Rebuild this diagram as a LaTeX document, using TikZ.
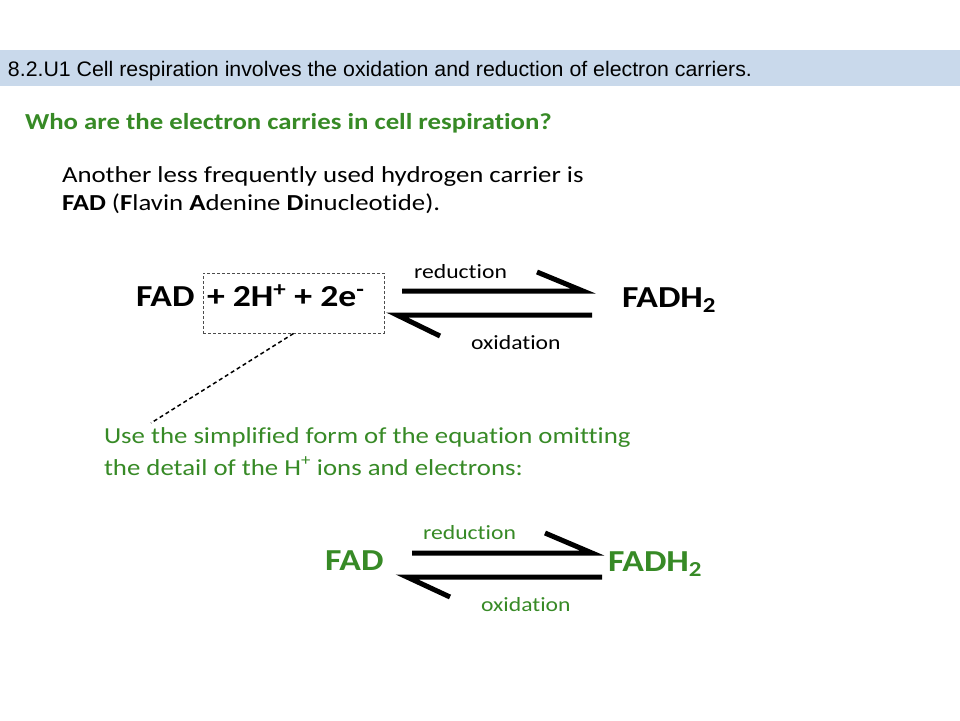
\documentclass[tikz,border=0pt]{standalone}
\usepackage{fontspec}
\setmainfont{Carlito}[FakeStretch=1.17,Ligatures=NoCommon]
\newfontfamily\arialfont{Liberation Sans}[FakeStretch=1.015]
\definecolor{bannerblue}{RGB}{201,217,235}
\definecolor{leafgreen}{RGB}{55,138,38}
\begin{document}
\begin{tikzpicture}[x=1pt,y=-1pt,
  txt/.style={anchor=base west,inner sep=0pt,outer sep=0pt},
  harpoon/.style={line width=5pt,line cap=butt,black},
  lbl/.style={anchor=base west,inner sep=0pt,font=\fontsize{20.2}{24}\selectfont}]
\useasboundingbox (0,0) rectangle (960,720);
\fill[white] (0,0) rectangle (960,720);
% banner
\fill[bannerblue] (0,50) rectangle (960,86);
\node[txt,font=\arialfont\fontsize{21}{24}\selectfont] (banner) at (8,76)
  {8.2.U1 Cell respiration involves the oxidation and reduction of electron carriers.};
% title
\node[txt,text=leafgreen,font=\bfseries\fontsize{22.9}{26}\selectfont] (title) at (25,129)
  {Who are the electron carries in cell respiration?};
% paragraph
\node[txt,font=\fontsize{22.9}{28}\selectfont] (para1) at (62,182)
  {Another less frequently used hydrogen carrier is};
\node[txt,font=\fontsize{22.9}{28}\selectfont] (para2) at (62,210)
  {\textbf{FAD} (\textbf{F}lavin \textbf{A}denine \textbf{D}inucleotide).};
% equation 1
\node[txt,font=\bfseries\fontsize{30.5}{36}\selectfont] (fad1) at (136,306) {FAD};
\node[txt,font=\bfseries\fontsize{30.5}{36}\selectfont] (ions) at (207,306)
  {+ 2H\textsuperscript{+} + 2e\textsuperscript{-}};
\node[draw=black!70,dashed,dash pattern=on 3pt off 2pt,line width=1pt,
  minimum width=181pt,minimum height=60pt,inner sep=0pt] (box) at (293.5,303) {};
\node[txt,font=\bfseries\fontsize{30.5}{36}\selectfont] (fadh1) at (622,307)
  {FADH\textsubscript{2}};
\coordinate (a1s) at (402,291); \coordinate (a1e) at (583,291); \coordinate (a1b) at (537,272);
\coordinate (b1s) at (592,315); \coordinate (b1e) at (397,315); \coordinate (b1b) at (440,336);
\draw[harpoon] (a1s) -- (a1e) -- (a1b);
\draw[harpoon] (b1s) -- (b1e) -- (b1b);
\node[lbl] (red1) at (414,278) {reduction};
\node[lbl] (ox1) at (471,349) {oxidation};
% connector
\coordinate (tip) at (151,423);
\draw[black,line width=1.5pt,dash pattern=on 4pt off 3pt] (box.south) -- (tip);
% green note
\node[txt,text=leafgreen,font=\fontsize{22.9}{27}\selectfont] (note1) at (104,443)
  {Use the simplified form of the equation omitting};
\node[txt,text=leafgreen,font=\fontsize{22.9}{27}\selectfont] (note2) at (104,475)
  {the detail of the H\textsuperscript{+} ions and electrons:};
% equation 2
\node[txt,text=leafgreen,font=\bfseries\fontsize{30.5}{36}\selectfont] (fad2) at (325,570) {FAD};
\node[txt,text=leafgreen,font=\bfseries\fontsize{30.5}{36}\selectfont] (fadh2) at (608,571)
  {FADH\textsubscript{2}};
\coordinate (a2s) at (412,553); \coordinate (a2e) at (592,553); \coordinate (a2b) at (545,533);
\coordinate (b2s) at (602,577); \coordinate (b2e) at (407,577); \coordinate (b2b) at (450,597);
\draw[harpoon] (a2s) -- (a2e) -- (a2b);
\draw[harpoon] (b2s) -- (b2e) -- (b2b);
\node[lbl,text=leafgreen] (red2) at (423,539) {reduction};
\node[lbl,text=leafgreen] (ox2) at (481,611) {oxidation};
\end{tikzpicture}
\end{document}
